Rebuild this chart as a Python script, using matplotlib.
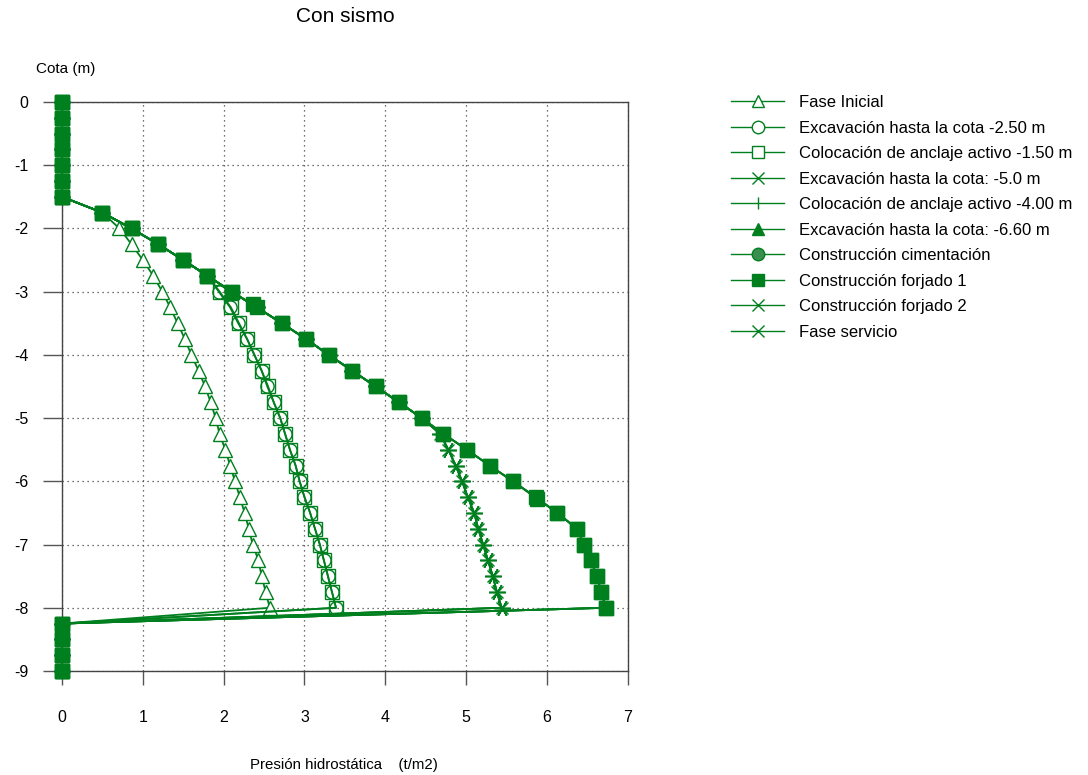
import matplotlib

matplotlib.use("Agg")
import matplotlib.pyplot as plt  # noqa: E402
from matplotlib.lines import Line2D  # noqa: E402

plt.rcParams["font.family"] = ["Liberation Sans", "DejaVu Sans"]

GREEN = "#007f1f"

# depths (m): top dry zone, water zone, bottom zone
depth_top = [0.0, -0.25, -0.5, -0.75, -1.0, -1.25, -1.5]
depth_mid = [-1.75, -2.0, -2.25, -2.5, -2.75, -3.0, -3.25, -3.5, -3.75, -4.0,
             -4.25, -4.5, -4.75, -5.0, -5.25, -5.5, -5.75, -6.0, -6.25, -6.5,
             -6.75, -7.0, -7.25, -7.5, -7.75, -8.0]
depth_bot = [-8.25, -8.5, -8.75, -9.0]

# pressures (t/m2) in the water zone, one list per phase
p_inicial = [0.50, 0.71, 0.86, 1.00, 1.13, 1.24, 1.34, 1.43, 1.52, 1.60,
             1.69, 1.77, 1.84, 1.90, 1.95, 2.02, 2.08, 2.14, 2.20, 2.26,
             2.31, 2.36, 2.43, 2.47, 2.52, 2.57]
p_exc_250 = [0.50, 0.86, 1.19, 1.50, 1.80, 1.94, 2.08, 2.18, 2.29, 2.38,
             2.47, 2.54, 2.62, 2.70, 2.76, 2.82, 2.89, 2.94, 3.00, 3.07,
             3.13, 3.19, 3.24, 3.29, 3.34, 3.39]
p_ancl_150 = [0.50, 0.86, 1.19, 1.50, 1.80, 1.95, 2.09, 2.19, 2.29, 2.38,
              2.47, 2.55, 2.62, 2.70, 2.76, 2.82, 2.89, 2.94, 3.00, 3.07,
              3.13, 3.19, 3.24, 3.29, 3.34, 3.39]
p_forjado2 = [0.50, 0.86, 1.19, 1.50, 1.80, 2.10, 2.41, 2.72, 3.02, 3.30,
              3.59, 3.88, 4.17, 4.45, 4.68, 4.78, 4.87, 4.95, 5.02, 5.10,
              5.15, 5.21, 5.27, 5.33, 5.38, 5.44]
p_forjado1 = [0.50, 0.86, 1.19, 1.50, 1.80, 2.10, 2.41, 2.72, 3.02, 3.30,
              3.59, 3.88, 4.17, 4.45, 4.72, 5.01, 5.29, 5.58, 5.86, 6.13,
              6.37, 6.46, 6.54, 6.62, 6.67, 6.73]
# intermediate phase (cimentación) with an extra node at -3.20 m
depth_cim = [-1.75, -2.0, -2.25, -2.5, -2.75, -3.0, -3.2, -3.5, -3.75, -4.0,
             -4.25, -4.5, -4.75, -5.0, -5.25, -5.5, -5.75, -6.0, -6.28, -6.5,
             -6.75, -7.0, -7.25, -7.5, -7.75, -8.0]
p_cim = [0.50, 0.86, 1.19, 1.50, 1.80, 2.10, 2.36, 2.72, 3.02, 3.30,
         3.59, 3.88, 4.17, 4.45, 4.72, 5.01, 5.29, 5.58, 5.88, 6.13,
         6.37, 6.46, 6.54, 6.62, 6.67, 6.73]

labels = ["Fase Inicial",
          "Excavación hasta la cota -2.50 m",
          "Colocación de anclaje activo -1.50 m",
          "Excavación hasta la cota: -5.0 m",
          "Colocación de anclaje activo -4.00 m",
          "Excavación hasta la cota: -6.60 m",
          "Construcción cimentación",
          "Construcción forjado 1",
          "Construcción forjado 2",
          "Fase servicio"]


def profile(p, depth=depth_mid):
    xs = [0.0] * len(depth_top) + list(p) + [0.0] * len(depth_bot)
    ys = depth_top + list(depth) + depth_bot
    return xs, ys


fig = plt.figure(figsize=(10.88, 7.75), dpi=100)
ax = fig.add_axes([0.057, 0.1342, 0.52, 0.7342])

star = (6, 2, 90)
common = dict(color=GREEN, lw=1.3, clip_on=False, zorder=3)
series = [
    (p_inicial, depth_mid, dict(marker="^", ms=10, mfc="white", mec=GREEN, mew=1.0)),
    (p_exc_250, depth_mid, dict(marker="o", ms=9.5, mfc="none", mec=GREEN, mew=1.0)),
    (p_ancl_150, depth_mid, dict(marker="s", ms=10.5, mfc="none", mec=GREEN, mew=1.0)),
    (p_forjado2, depth_mid, dict(marker="x", ms=9, mec=GREEN, mew=1.0)),
    (p_forjado1, depth_mid, dict(marker="+", ms=9, mec=GREEN, mew=1.0)),
    (p_forjado1, depth_mid, dict(marker="^", ms=9, mfc=GREEN, mec=GREEN)),
    (p_cim, depth_cim, dict(marker="s", ms=10.5, mfc=GREEN, mec=GREEN)),
    (p_forjado1, depth_mid, dict(marker="s", ms=10.5, mfc=GREEN, mec=GREEN)),
    (p_forjado2, depth_mid, dict(marker=star, ms=12, mec=GREEN, mew=1.0)),
    (p_forjado2, depth_mid, dict(marker=star, ms=12, mec=GREEN, mew=1.0)),
]
draw_order = [0, 1, 2, 3, 4, 5, 6, 8, 9, 7]
for i in draw_order:
    p, d, style = series[i]
    xs, ys = profile(p, d)
    ax.plot(xs, ys, **common, **style)

# legend proxies matching the original symbols
leg_styles = [
    dict(marker="^", mfc="white"), dict(marker="o", mfc="white"),
    dict(marker="s", mfc="white"), dict(marker="x"), dict(marker="|"),
    dict(marker="^", mfc=GREEN), dict(marker="o", mfc="#3a8f4e"),
    dict(marker="s", mfc=GREEN), dict(marker="x"), dict(marker="x"),
]
proxies = [Line2D([], [], color=GREEN, lw=1.0, ms=9, mec=GREEN, mew=1.0, **s)
           for s in leg_styles]
fig.legend(proxies, labels, loc="upper left", bbox_to_anchor=(0.672, 0.877),
           frameon=False, fontsize=12, handlelength=3.2, handletextpad=0.85,
           labelspacing=0.63, borderpad=0, borderaxespad=0)

ax.set_xlim(0, 7)
ax.set_ylim(-9, 0)
ax.set_xticks(range(0, 8))
ax.set_yticks(range(0, -10, -1))
ax.set_yticklabels(["0"] + [f"-{k}" for k in range(1, 10)])
ax.grid(True, ls=(0, (1, 3)), color="#444444", lw=0.9)
ax.tick_params(axis="y", direction="out", length=14, width=1.0, color="#555555",
               pad=10, labelsize=11.5)
ax.tick_params(axis="x", direction="out", length=10, width=1.0, color="#555555",
               pad=18, labelsize=11.5)
for s in ax.spines.values():
    s.set_color("#444444")
    s.set_linewidth(1.0)

fig.text(0.317, 0.979, "Con sismo", ha="center", va="center", fontsize=15)
fig.text(0.06, 0.911, "Cota (m)", ha="center", va="center", fontsize=11)
fig.text(0.316, 0.013, "Presión hidrostática    (t/m2)", ha="center",
         va="center", fontsize=10.8)

fig.savefig("out.png", dpi=100)
